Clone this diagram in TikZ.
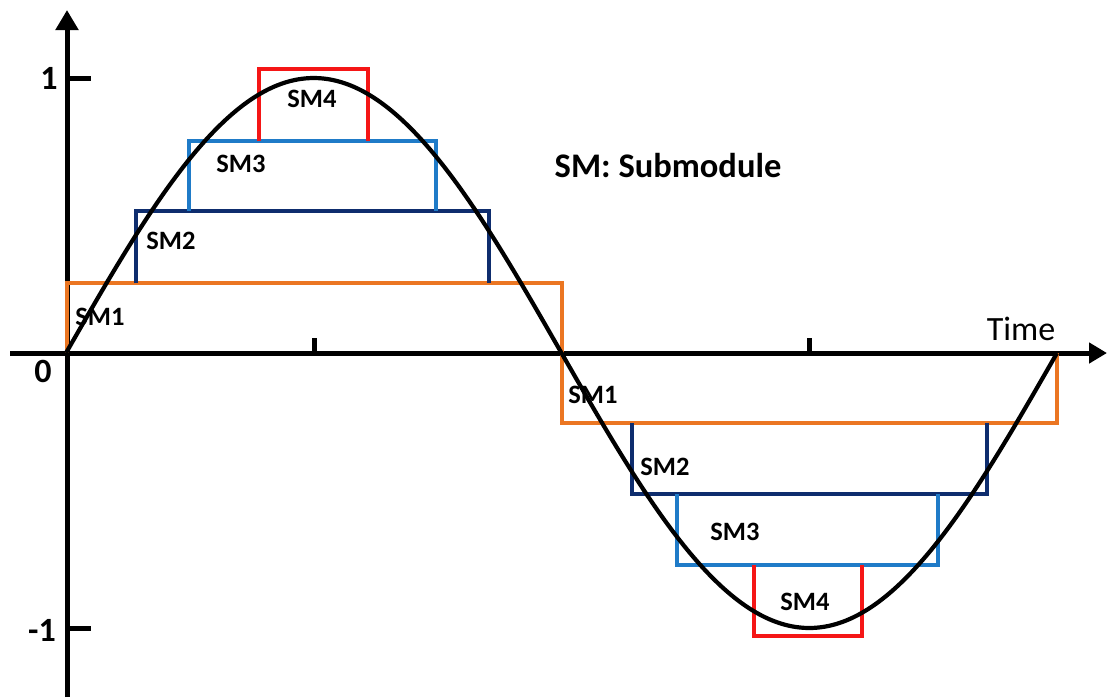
\documentclass[tikz,border=0pt]{standalone}
\usepackage{fontspec}
\setmainfont{Carlito}
\usetikzlibrary{arrows.meta}
\definecolor{smorange}{HTML}{EB7622}
\definecolor{smnavy}{HTML}{0E2D6E}
\definecolor{smblue}{HTML}{1F7BC8}
\definecolor{smred}{HTML}{F51616}
\begin{document}
\begin{tikzpicture}[x=1pt,y=-1pt,
  axis/.style={line width=5pt,draw=black},
  stepline/.style={line width=4.2pt,line join=miter},
  smlabel/.style={font=\fontsize{26.5}{26.5}\selectfont\bfseries,inner sep=0pt},
  numlabel/.style={font=\fontsize{34}{34}\selectfont\bfseries,inner sep=0pt}]
\useasboundingbox (0,0) rectangle (1108,697);
% axes
\coordinate (yb) at (67,697);
\coordinate (yt) at (67,10);
\coordinate (xl) at (10,353);
\coordinate (xr) at (1107,353);
\draw[axis,-{Triangle[width=22pt,length=20pt]}] (yb) -- (yt);
\draw[axis,-{Triangle[width=20pt,length=18pt]}] (xl) -- (xr);
% ticks
\draw[axis] (67,78) -- (91,78);
\draw[axis] (67,628) -- (91,628);
\draw[axis] (314,338) -- (314,353);
\draw[axis] (809,338) -- (809,353);
% steps
\draw[stepline,smorange] (67,353) -- (67,283) -- (562,283) -- (562,423) -- (1057,423) -- (1057,353);
\draw[stepline,smnavy] (136,283) -- (136,211) -- (489,211) -- (489,283);
\draw[stepline,smblue] (189,211) -- (189,141) -- (436,141) -- (436,211);
\draw[stepline,smred] (259,141) -- (259,69) -- (368,69) -- (368,141);
\draw[stepline,smnavy] (632,423) -- (632,494) -- (987,494) -- (987,423);
\draw[stepline,smblue] (677,494) -- (677,565) -- (938,565) -- (938,494);
\draw[stepline,smred] (754,565) -- (754,636) -- (862,636) -- (862,565);
% sine
\draw[line width=4.2pt,black,domain=66:1057,samples=240,smooth] plot (\x,{353-275*sin((\x-66)/991*360)});
% labels
\node[smlabel] (l1) at (100,317) {SM1};
\node[smlabel] (l2) at (171,241) {SM2};
\node[smlabel] (l3) at (241,164) {SM3};
\node[smlabel] (l4) at (312,99) {SM4};
\node[smlabel] (m1) at (593,395) {SM1};
\node[smlabel] (m2) at (665,467) {SM2};
\node[smlabel] (m3) at (735,532) {SM3};
\node[smlabel] (m4) at (805,602) {SM4};
\node[font=\fontsize{34.5}{34.5}\selectfont\bfseries,inner sep=0pt] (leg) at (668,166) {SM: Submodule};
\node[font=\fontsize{34}{34}\selectfont,inner sep=0pt] (time) at (1021,329) {Time};
\node[numlabel] (n1) at (49,78) {1};
\node[numlabel] (n0) at (43,371) {0};
\node[numlabel] (nm1) at (42,630) {-1};
\end{tikzpicture}
\end{document}
